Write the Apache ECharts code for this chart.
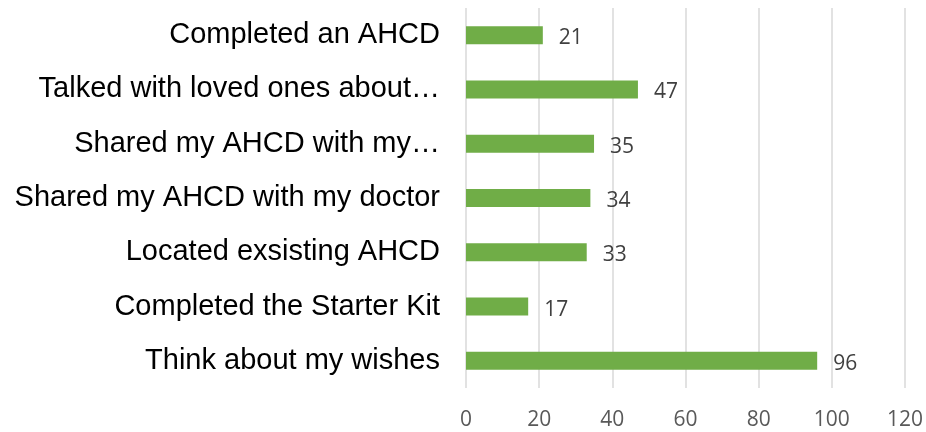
<!DOCTYPE html>
<html>
<head>
<meta charset="utf-8">
<script src="https://cdn.jsdelivr.net/npm/echarts@6/dist/echarts.min.js"></script>
<style>
  html, body { margin: 0; padding: 0; background: #fff; }
  #chart { width: 926px; height: 432px; }
</style>
</head>
<body>
<div id="chart"></div>
<script>
// Survey actions, listed top to bottom
const categories = [
  'Completed an AHCD',
  'Talked with loved ones about\u2026',
  'Shared my AHCD with my\u2026',
  'Shared my AHCD with my doctor',
  'Located exsisting AHCD',
  'Completed the Starter Kit',
  'Think about my wishes'
];
const counts = [21, 47, 35, 34, 33, 17, 96];
const axisTicks = [0, 20, 40, 60, 80, 100, 120];

const chart = echarts.init(document.getElementById('chart'), null, { renderer: 'canvas' });

chart.setOption({
  animation: false,
  backgroundColor: '#ffffff',
  grid: { left: 466, right: 20, top: 8, bottom: 44, containLabel: false },
  xAxis: {
    type: 'value',
    min: axisTicks[0],
    max: axisTicks[axisTicks.length - 1],
    interval: axisTicks[1] - axisTicks[0],
    axisLine: { show: false },
    axisTick: { show: false },
    splitLine: { show: true, lineStyle: { color: '#d9d9d9', width: 1.5 } },
    axisLabel: {
      margin: 22,
      color: '#595959',
      fontFamily: 'Open Sans',
      fontSize: 21
    }
  },
  yAxis: {
    type: 'category',
    inverse: true,
    data: categories,
    axisLine: { show: false },
    axisTick: { show: false },
    axisLabel: {
      margin: 26,
      color: '#000000',
      fontFamily: 'Liberation Sans',
      fontSize: 29
    }
  },
  series: [{
    type: 'bar',
    data: counts,
    barWidth: 18,
    itemStyle: { color: '#70ad47' },
    label: {
      show: true,
      position: 'right',
      distance: 16,
      offset: [0, 3],
      color: '#404040',
      fontFamily: 'Open Sans',
      fontSize: 21
    }
  }]
});
</script>
</body>
</html>
